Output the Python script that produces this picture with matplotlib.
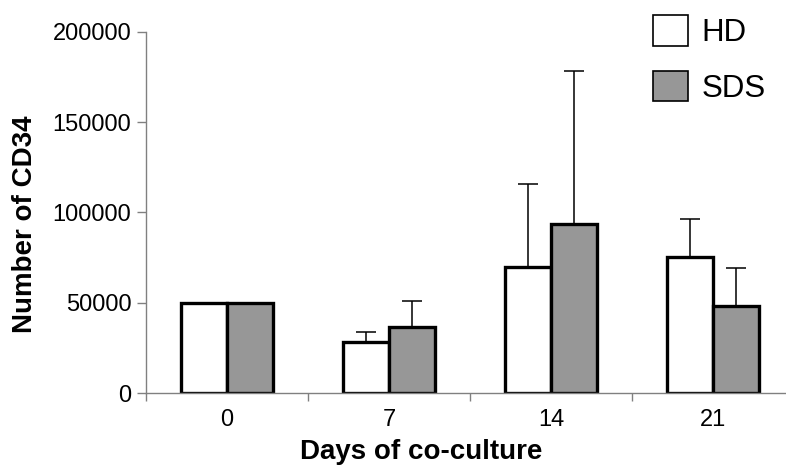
import matplotlib
matplotlib.use("Agg")
import matplotlib.pyplot as plt
from matplotlib.patches import Patch
import numpy as np

plt.rcParams['font.family'] = ['Liberation Sans', 'DejaVu Sans']

days = ["0", "7", "14", "21"]
hd_mean = [50000, 28200, 69800, 75300]
hd_err = [0, 5600, 46000, 21000]
sds_mean = [50000, 36500, 93600, 48200]
sds_err = [0, 14500, 84700, 21000]

series_names = ["HD", "SDS"]
y_ticks = [0, 50000, 100000, 150000, 200000]

fig = plt.figure(figsize=(7.86, 4.69), dpi=100)
ax = fig.add_axes([146 / 786, 1 - 393 / 469, 648 / 786, 361 / 469])

x = np.arange(len(days))
w = 0.287
edge_lw = 2.4

ax.bar(x - w / 2, hd_mean, w, color="white", edgecolor="black", linewidth=edge_lw, zorder=2)
ax.bar(x + w / 2, sds_mean, w, color="#979797", edgecolor="black", linewidth=edge_lw, zorder=2)

for xs, m, e in ((x - w / 2, hd_mean, hd_err), (x + w / 2, sds_mean, sds_err)):
    idx = [i for i in range(len(e)) if e[i] > 0]
    ax.errorbar(xs[idx], np.array(m)[idx], yerr=[np.zeros(len(idx)), np.array(e)[idx]],
                fmt="none", ecolor="black", elinewidth=1.1, capsize=7, capthick=1.1, zorder=1)

ax.set_xlim(-0.5, 3.5)
ax.set_ylim(0, 200000)

for s in ("top", "right"):
    ax.spines[s].set_visible(False)
for s in ("left", "bottom"):
    ax.spines[s].set_color("#808080")
    ax.spines[s].set_linewidth(1.0)

ax.set_yticks(y_ticks)
ax.set_yticklabels([str(v) for v in y_ticks])
ax.tick_params(axis="y", direction="out", length=6.5, width=1.0, color="#808080",
               labelsize=17, pad=4)

ax.set_xticks(x)
ax.set_xticklabels(days)
ax.set_xticks(np.arange(-0.5, 4.0, 1.0), minor=True)
ax.tick_params(axis="x", which="major", length=0, labelsize=17, pad=11.5)
ax.tick_params(axis="x", which="minor", direction="out", length=5.5, width=1.0, color="#808080")

fig.text(421 / 786, 1 - 452 / 469, "Days of co-culture", ha="center", va="center",
         fontsize=20, fontweight="bold")
fig.text(25 / 786, 1 - 224 / 469, "Number of CD34", ha="center", va="center",
         rotation=90, fontsize=20, fontweight="bold")

handles = [Patch(facecolor="white", edgecolor="black", linewidth=1.2),
           Patch(facecolor="#979797", edgecolor="black", linewidth=1.2)]
leg = fig.legend(handles, series_names, loc="upper left",
                 bbox_to_anchor=(640 / 786, 1 - 3 / 469), frameon=False,
                 fontsize=22.5, handlelength=1.12, handleheight=1.12,
                 labelspacing=0.72, handletextpad=0.45, borderaxespad=0)

fig.savefig("out.png", dpi=100)
